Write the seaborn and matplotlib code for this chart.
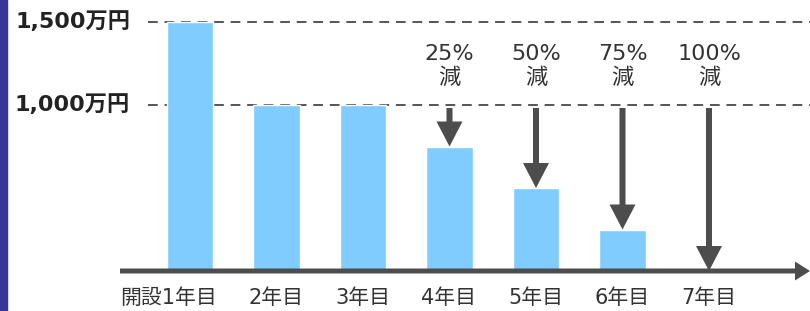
import numpy as np
import pandas as pd
import matplotlib
matplotlib.use("Agg")
import matplotlib.pyplot as plt
import seaborn as sns
from matplotlib.patches import Rectangle

# データ
years = ['開設1年目', '2年目', '3年目', '4年目', '5年目', '6年目', '7年目']
amounts = [1500, 1000, 1000, 750, 500, 250, 0]  # 万円
cut_labels = ['', '', '', '25%\n減', '50%\n減', '75%\n減', '100%\n減']
ref_lines = [1500, 1000]
ref_labels = ['1,500万円', '1,000万円']

sns.set_theme(style='white')
# 数字は幅の広い DejaVu、漢字は Noto
plt.rcParams['font.family'] = ['DejaVu Sans', 'Noto Sans CJK JP']

bar_color = '#80cbff'
dark = '#4d4d4d'
text_color = '#333333'

df = pd.DataFrame({'year': years, 'amount': amounts})

fig = plt.figure(figsize=(8.1, 3.11), dpi=100)
ax = fig.add_axes([0, 0, 1, 1])

sns.barplot(data=df, x='year', y='amount', color=bar_color, width=0.54,
            saturation=1, ax=ax, zorder=2)

# 1カテゴリ = 86.5px, 500万円 = 83px
px_x = 86.5
x0 = 190
px_y = 83 / 500
ax.set_xlim(-x0 / px_x, (810 - x0) / px_x)
ax.set_ylim(-40 / px_y, 271 / px_y)

# 点線
for v in ref_lines:
    ax.plot([(148 - x0) / px_x, 7.3], [v, v], color='#555555', lw=1.4,
            ls=(0, (5, 3.5)), zorder=1)

# 横軸の矢印
ax.arrow((120 - x0) / px_x, 0, (810 - 120) / px_x, 0, width=5 / px_y,
         head_width=19 / px_y, head_length=15 / px_x, length_includes_head=True,
         color=dark, zorder=3, lw=0)

# 減額の矢印
for i, (a, lab) in enumerate(zip(amounts, cut_labels)):
    if not lab:
        continue
    start = ref_lines[1] - 18
    ax.arrow(i, start, 0, a - start, width=6 / px_x, head_width=26 / px_x,
             head_length=25 / px_y, length_includes_head=True, color=dark,
             zorder=4, lw=0)
    ax.text(i, 1235, lab, ha='center', va='center', fontsize=16,
            color=text_color, linespacing=1.2)

# 縦軸ラベル
for v, lab in zip(ref_lines, ref_labels):
    ax.text((130 - x0) / px_x, v, lab, ha='right', va='center', fontsize=16,
            fontweight='bold', color='#222222')

# 横軸ラベル
for i, lab in enumerate(years):
    ax.text(i + 27 / px_x, -27 / px_y, lab, ha='right', va='center',
            fontsize=15, color=text_color)

ax.axis('off')

# 左端の帯
fig.patches.append(Rectangle((0, 0), 7 / 810, 1, transform=fig.transFigure,
                             color='#35359a', zorder=5))

fig.savefig('out.png', dpi=100)
